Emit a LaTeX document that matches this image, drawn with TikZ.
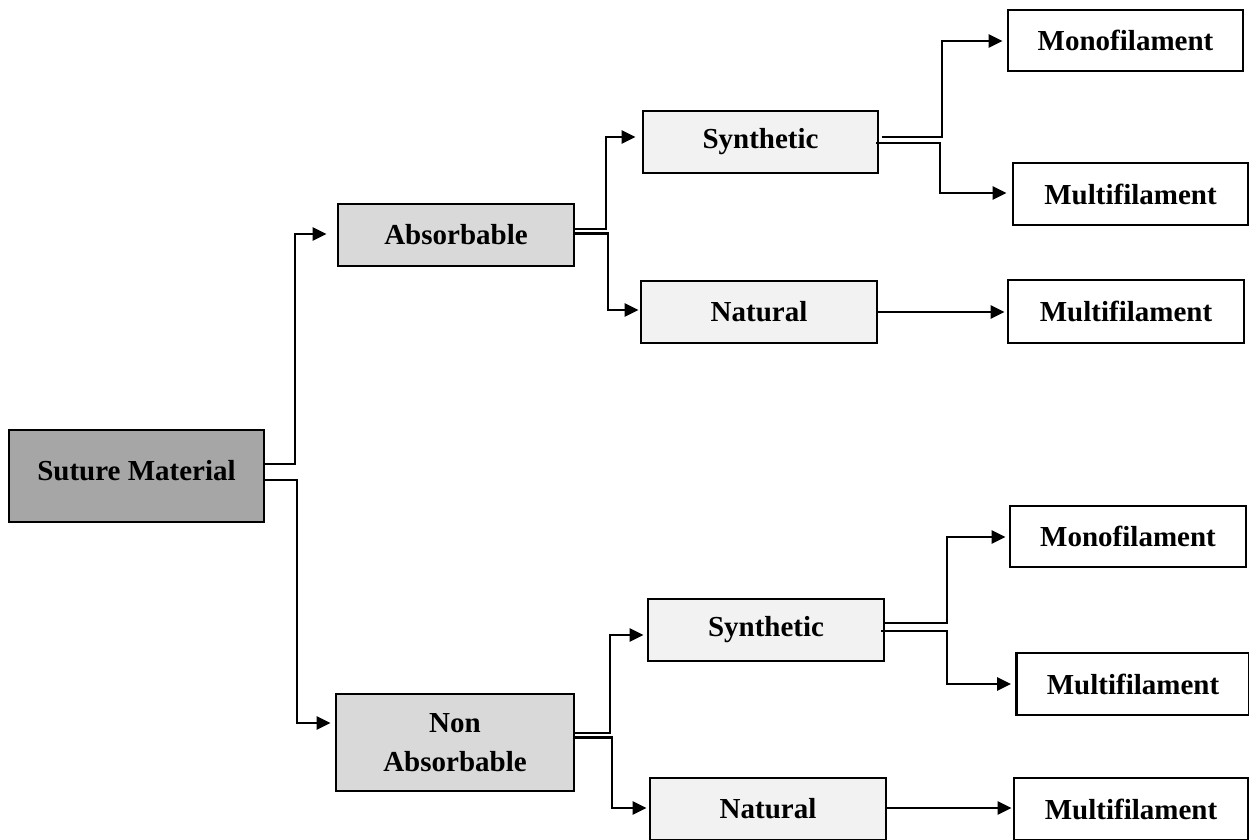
\documentclass[tikz,border=0pt]{standalone}
\usepackage{fontspec}
\setmainfont{Liberation Serif}
\usetikzlibrary{arrows.meta}
\tikzset{
  box/.style={draw=black, line width=2.8pt, inner sep=0pt, align=center,
    font=\fontsize{29}{39}\selectfont\bfseries},
  rootbox/.style={box, fill=rootgray},
  lvlone/.style={box, fill=midgray},
  lvltwo/.style={box, fill=lightgray2},
  leafbox/.style={box, fill=white},
  arr/.style={line width=2.4pt, -{Triangle[length=14pt,width=13pt]}}
}
\definecolor{rootgray}{HTML}{A6A6A6}
\definecolor{midgray}{HTML}{D9D9D9}
\definecolor{lightgray2}{HTML}{F2F2F2}
\begin{document}
\begin{tikzpicture}[x=1pt,y=-1pt]
\useasboundingbox (0,0) rectangle (1249,839);
% nodes
\node[rootbox, minimum width=255pt, minimum height=92pt] (sm) at (136.5,476) {\raisebox{11pt}{Suture Material}};
\node[lvlone, minimum width=236pt, minimum height=62pt] (abs) at (456,235) {Absorbable};
\node[lvlone, minimum width=238pt, minimum height=97pt] (nabs) at (455,742.5) {Non\\Absorbable};
\node[lvltwo, minimum width=235pt, minimum height=62pt] (syn1) at (760.5,142) {Synthetic};
\node[lvltwo, minimum width=236pt, minimum height=62pt] (nat1) at (759,312) {Natural};
\node[lvltwo, minimum width=236pt, minimum height=62pt] (syn2) at (766,630) {Synthetic};
\node[lvltwo, minimum width=236pt, minimum height=62pt] (nat2) at (768,809) {Natural};
\node[leafbox, minimum width=235pt, minimum height=61pt] (mono1) at (1125.5,40.5) {Monofilament};
\node[leafbox, minimum width=235pt, minimum height=62pt] (mult1) at (1130.5,194) {Multifilament};
\node[leafbox, minimum width=236pt, minimum height=63pt] (mult2) at (1126,311.5) {Multifilament};
\node[leafbox, minimum width=236pt, minimum height=61pt] (mono2) at (1128,536.5) {Monofilament};
\node[leafbox, minimum width=233pt, minimum height=62pt] (mult3) at (1133,684) {Multifilament};
\node[leafbox, minimum width=234pt, minimum height=62pt] (mult4) at (1131,809) {Multifilament};
% connectors
\draw[arr] (sm.east |- 0,464) -- (295,464) |- ([xshift=-10pt]abs.west |- 0,234);
\draw[arr] (sm.east |- 0,480) -- (297,480) |- ([xshift=-4pt]nabs.west |- 0,723);
\draw[arr] (abs.east |- 0,229) -- (606,229) |- ([xshift=-6pt]syn1.west |- 0,137);
\draw[arr] (abs.east |- 0,233.5) -- (608,233.5) |- ([xshift=-1pt]nat1.west |- 0,310);
\draw[arr] ([xshift=3pt]syn1.east |- 0,137) -- (942,137) |- ([xshift=-4pt]mono1.west |- 0,41);
\draw[arr] ([xshift=-3pt]syn1.east |- 0,143) -- (940,143) |- ([xshift=-5pt]mult1.west |- 0,193);
\draw[arr] (nat1.east |- 0,312) -- ([xshift=-2pt]mult2.west |- 0,312);
\draw[arr] (nabs.east |- 0,733) -- (610,733) |- ([xshift=-3pt]syn2.west |- 0,635);
\draw[arr] (nabs.east |- 0,737.5) -- (612,737.5) |- ([xshift=-2pt]nat2.west |- 0,808);
\draw[arr] (syn2.east |- 0,623) -- (947,623) |- ([xshift=-3pt]mono2.west |- 0,537);
\draw[arr] ([xshift=-4pt]syn2.east |- 0,631) -- (947,631) |- ([xshift=-4pt]mult3.west |- 0,684);
\draw[arr] (nat2.east |- 0,808) -- ([xshift=-1pt]mult4.west |- 0,808);
\end{tikzpicture}
\end{document}
